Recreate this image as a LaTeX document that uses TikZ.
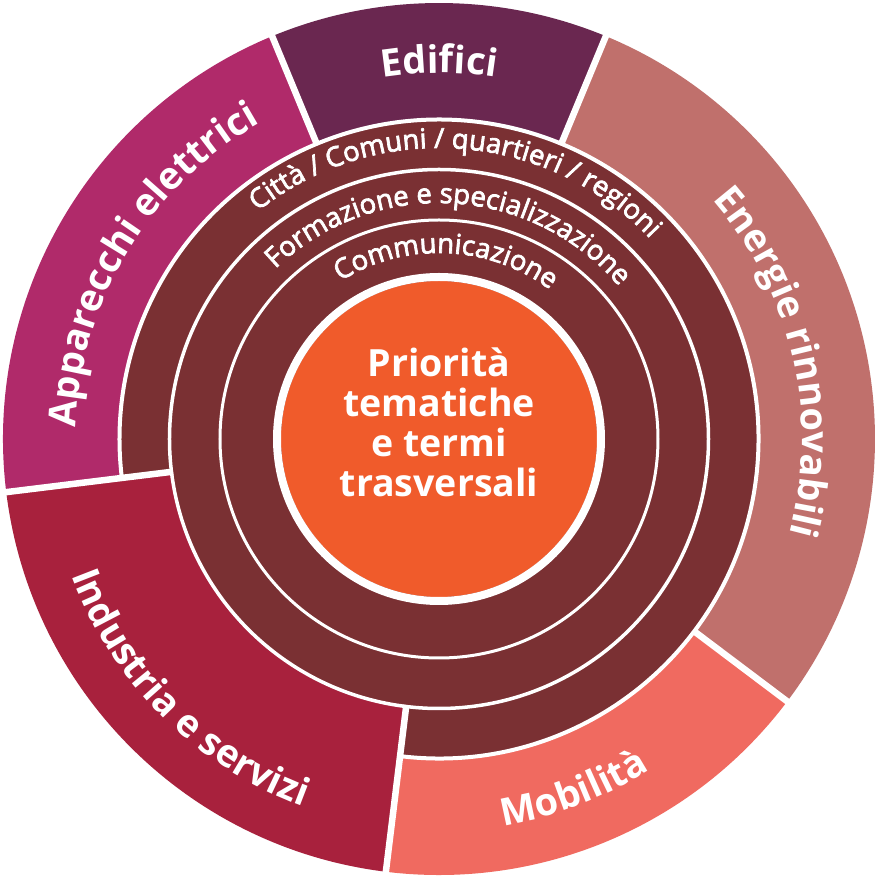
\documentclass[tikz,border=0pt]{standalone}
\usepackage{fontspec}
\setmainfont{Open Sans}
\newfontfamily\ringfamily[FakeBold=2.6]{Open Sans}
\usetikzlibrary{decorations.text}
\definecolor{cedif}{RGB}{106,39,80}
\definecolor{cappa}{RGB}{176,42,106}
\definecolor{cener}{RGB}{192,112,108}
\definecolor{cmobi}{RGB}{240,106,96}
\definecolor{cindu}{RGB}{168,33,61}
\definecolor{cring}{RGB}{122,48,51}
\definecolor{corange}{RGB}{240,91,43}
\newcommand\outerfont{\fontsize{38}{38}\selectfont\bfseries}
\newcommand\ringfont{\ringfamily\fontsize{27.5}{27.5}\selectfont}
\newcommand\centerfont{\fontsize{37.5}{40}\selectfont\bfseries}
\newcommand\annsector[5]{\fill[#1] (#2:#4) arc[start angle=#2,end angle=#3,radius=#4] -- (#3:#5) arc[start angle=#3,end angle=#2,radius=#5] -- cycle;}
\tikzset{
  sepline/.style={white, line width=6.5},
  ringline/.style={white, line width=3.5},
  curvelabel/.style={decorate, decoration={text along path, text align=center, text color=white, text={#1}}},
  centertext/.style={anchor=base, text=white, font=\centerfont, inner sep=0pt},
}
\begin{document}
\begin{tikzpicture}[x=1pt,y=1pt]
\fill[white] (-439,-438) rectangle (439,439);
\useasboundingbox (-439,-438) rectangle (439,439);
% outer segments
\annsector{cedif}{67.5}{112.5}{318}{436}
\annsector{cappa}{112.5}{187}{318}{436}
\annsector{cmobi}{-97}{-37}{318}{436}
\annsector{cener}{-37}{67.5}{318}{436}
% dark rings
\fill[cring] (0,0) circle[radius=320];
\annsector{cindu}{187}{263}{268}{436}
% white ring lines
\draw[ringline, line width=4] (-97:319.5) arc[start angle=-97, end angle=187, radius=319.5];
\draw[ringline] (0,0) circle[radius=269.5];
\draw[ringline, line width=3] (0,0) circle[radius=219];
\fill[corange] (0,0) circle[radius=158];
\draw[white, line width=8] (0,0) circle[radius=162];
% radial separators
\draw[sepline] (67.5:318) -- (67.5:442);
\draw[sepline] (112.5:318) -- (112.5:442);
\draw[sepline] (-37:318) -- (-37:442);
\draw[sepline] (187:268) -- (187:442);
\draw[sepline] (263:268) -- (263:442);
% outer labels
\path[curvelabel={|\outerfont|Edifici}] (150:366) arc[start angle=150, end angle=30, radius=366];
\path[curvelabel={|\outerfont|Apparecchi elettrici}] (208.8:363) arc[start angle=208.8, end angle=88.8, radius=363];
\path[curvelabel={|\outerfont|Energie rinnovabili}] (73:363) arc[start angle=73, end angle=-47, radius=363];
\path[curvelabel={|\outerfont|Mobilità}] (-129:392) arc[start angle=-129, end angle=-9, radius=392];
\path[curvelabel={|\outerfont|Industria e servizi}] (165:392) arc[start angle=165, end angle=285, radius=392];
% ring labels
\path[curvelabel={|\ringfont|Città / Comuni / quartieri / regioni}] (176:291) arc[start angle=176, end angle=-4, radius=291];
\path[curvelabel={|\ringfont|Formazione e specializzazione}] (177.1:236) arc[start angle=177.1, end angle=-2.9, radius=236];
\path[curvelabel={|\ringfont|Communicazione}] (177.7:186) arc[start angle=177.7, end angle=-2.3, radius=186];
% center text
\node[centertext] (l1) at (0,62.3) {Priorità};
\node[centertext] (l2) at (0,22.3) {tematiche};
\node[centertext] (l3) at (0,-17.7) {e termi};
\node[centertext] (l4) at (0,-57.7) {trasversali};
\end{tikzpicture}
\end{document}
